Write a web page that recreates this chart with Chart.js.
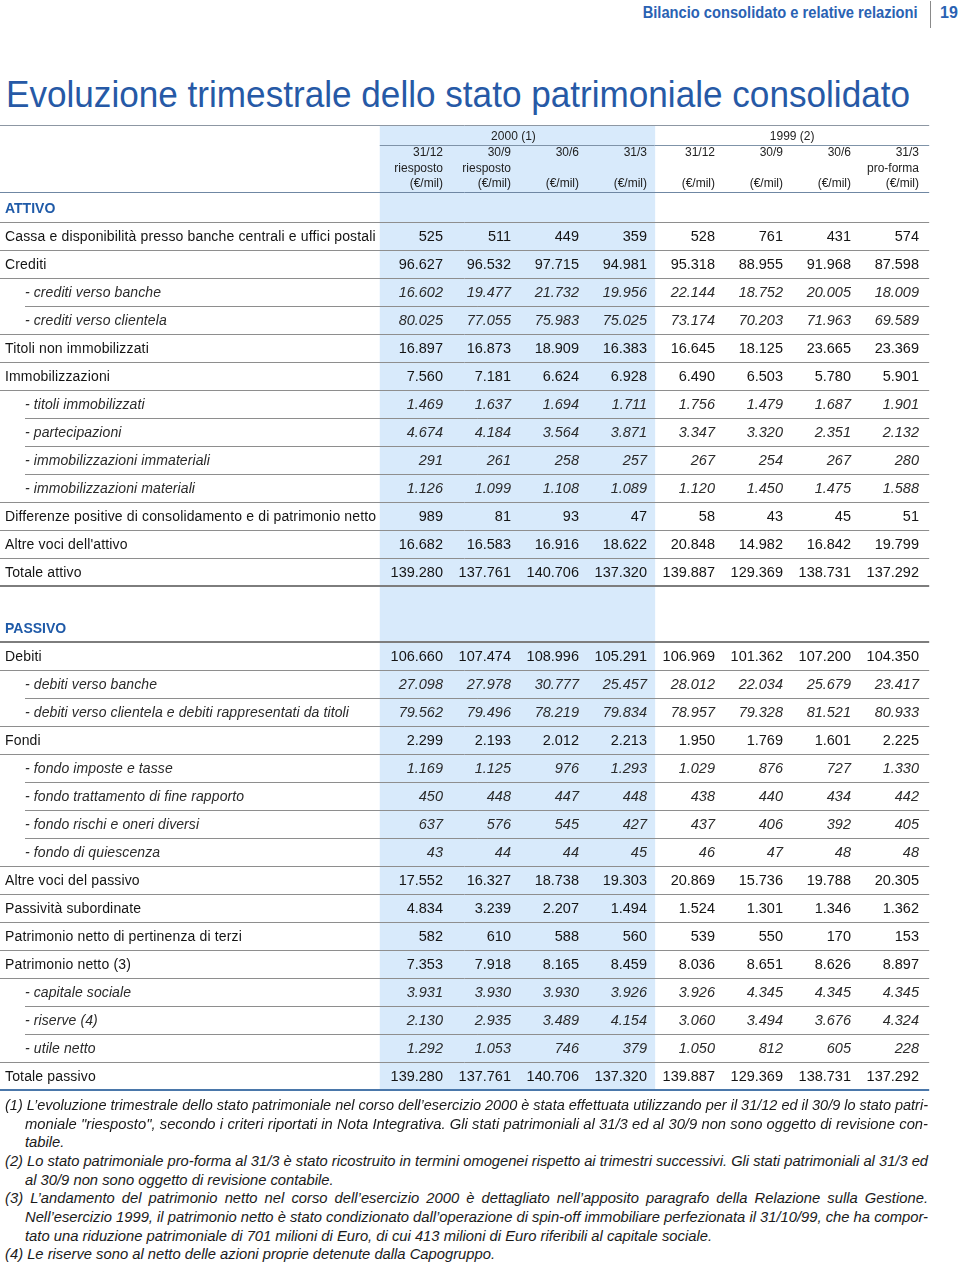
<!DOCTYPE html>
<html lang="it">
<head>
<meta charset="utf-8">
<title>Evoluzione trimestrale dello stato patrimoniale consolidato</title>
<script src="https://cdn.jsdelivr.net/npm/chart.js@4.4.1/dist/chart.umd.min.js"></script>
<style>
  html, body { margin: 0; padding: 0; background: #fff; }
  body { width: 960px; height: 1264px; position: relative; overflow: hidden;
         font-family: "Liberation Sans", Arial, sans-serif; }
  .fit { position: absolute; white-space: nowrap; line-height: 1; }
  #runhead { top: 5px; right: 42px; color: #2a62b3; font-weight: bold; font-size: 16px; transform-origin: 100% 0; }
  #pageno { top: 5px; left: 940px; color: #2a62b3; font-weight: bold; font-size: 16px; }
  #vrule { position: absolute; left: 930px; top: 1px; width: 1px; height: 27px; background: #8a8a8a; }
  #title { top: 77px; left: 6px; color: #2659a6; font-size: 36px; transform-origin: 0 0; }
  #tableBox { position: absolute; left: 0; top: 120px; width: 960px; height: 980px; }
  .note { position: absolute; font-style: italic; font-size: 14px; line-height: 18px; color: #1a1a1a;
          transform-origin: 0 0; white-space: nowrap; }
  .note.just { white-space: normal; text-align: justify; text-align-last: justify; }
</style>
</head>
<body>
<div id="runhead" class="fit">Bilancio consolidato e relative relazioni</div>
<div id="vrule"></div>
<div id="pageno" class="fit">19</div>
<div id="title" class="fit">Evoluzione trimestrale dello stato patrimoniale consolidato</div>
<div id="tableBox"><canvas id="bsChart"></canvas></div>
<div id="notes"></div>

<script>
// ---- data ----
const yearGroups = ['2000 (1)', '1999 (2)'];
const colDates = ['31/12', '30/9', '30/6', '31/3', '31/12', '30/9', '30/6', '31/3'];
const colNotes = ['riesposto', 'riesposto', '', '', '', '', '', 'pro-forma'];
const colUnit = '(€/mil)';

const rowLabels = [
  'ATTIVO',
  'Cassa e disponibilità presso banche centrali e uffici postali',
  'Crediti',
  '- crediti verso banche',
  '- crediti verso clientela',
  'Titoli non immobilizzati',
  'Immobilizzazioni',
  '- titoli immobilizzati',
  '- partecipazioni',
  '- immobilizzazioni immateriali',
  '- immobilizzazioni materiali',
  'Differenze positive di consolidamento e di patrimonio netto',
  "Altre voci dell'attivo",
  'Totale attivo',
  '',
  'PASSIVO',
  'Debiti',
  '- debiti verso banche',
  '- debiti verso clientela e debiti rappresentati da titoli',
  'Fondi',
  '- fondo imposte e tasse',
  '- fondo trattamento di fine rapporto',
  '- fondo rischi e oneri diversi',
  '- fondo di quiescenza',
  'Altre voci del passivo',
  'Passività subordinate',
  'Patrimonio netto di pertinenza di terzi',
  'Patrimonio netto (3)',
  '- capitale sociale',
  '- riserve (4)',
  '- utile netto',
  'Totale passivo'
];
const rowKinds = [
  'section', 'main', 'main', 'sub', 'sub', 'main', 'main', 'sub', 'sub', 'sub', 'sub', 'main', 'main', 'total',
  'blank', 'section', 'main', 'sub', 'sub', 'main', 'sub', 'sub', 'sub', 'sub', 'main', 'main', 'main', 'main',
  'sub', 'sub', 'sub', 'total'
];

// one array per quarter, values in €/mil, same order as rowLabels
const q2000_3112 = [null, 525, 96627, 16602, 80025, 16897, 7560, 1469, 4674, 291, 1126, 989, 16682, 139280, null, null,
  106660, 27098, 79562, 2299, 1169, 450, 637, 43, 17552, 4834, 582, 7353, 3931, 2130, 1292, 139280];
const q2000_309 = [null, 511, 96532, 19477, 77055, 16873, 7181, 1637, 4184, 261, 1099, 81, 16583, 137761, null, null,
  107474, 27978, 79496, 2193, 1125, 448, 576, 44, 16327, 3239, 610, 7918, 3930, 2935, 1053, 137761];
const q2000_306 = [null, 449, 97715, 21732, 75983, 18909, 6624, 1694, 3564, 258, 1108, 93, 16916, 140706, null, null,
  108996, 30777, 78219, 2012, 976, 447, 545, 44, 18738, 2207, 588, 8165, 3930, 3489, 746, 140706];
const q2000_313 = [null, 359, 94981, 19956, 75025, 16383, 6928, 1711, 3871, 257, 1089, 47, 18622, 137320, null, null,
  105291, 25457, 79834, 2213, 1293, 448, 427, 45, 19303, 1494, 560, 8459, 3926, 4154, 379, 137320];
const q1999_3112 = [null, 528, 95318, 22144, 73174, 16645, 6490, 1756, 3347, 267, 1120, 58, 20848, 139887, null, null,
  106969, 28012, 78957, 1950, 1029, 438, 437, 46, 20869, 1524, 539, 8036, 3926, 3060, 1050, 139887];
const q1999_309 = [null, 761, 88955, 18752, 70203, 18125, 6503, 1479, 3320, 254, 1450, 43, 14982, 129369, null, null,
  101362, 22034, 79328, 1769, 876, 440, 406, 47, 15736, 1301, 550, 8651, 4345, 3494, 812, 129369];
const q1999_306 = [null, 431, 91968, 20005, 71963, 23665, 5780, 1687, 2351, 267, 1475, 45, 16842, 138731, null, null,
  107200, 25679, 81521, 1601, 727, 434, 392, 48, 19788, 1346, 170, 8626, 4345, 3676, 605, 138731];
const q1999_313 = [null, 574, 87598, 18009, 69589, 23369, 5901, 1901, 2132, 280, 1588, 51, 19799, 137292, null, null,
  104350, 23417, 80933, 2225, 1330, 442, 405, 48, 20305, 1362, 153, 8897, 4345, 4324, 228, 137292];

const quarters = [q2000_3112, q2000_309, q2000_306, q2000_313, q1999_3112, q1999_309, q1999_306, q1999_313];

const footnotes = [
  ['(1) L’evoluzione trimestrale dello stato patrimoniale nel corso dell’esercizio 2000 è stata effettuata utilizzando per il 31/12 ed il 30/9 lo stato patri-', 0, true],
  ['moniale "riesposto", secondo i criteri riportati in Nota Integrativa. Gli stati patrimoniali al 31/3 ed al 30/9 non sono oggetto di revisione con-', 1, true],
  ['tabile.', 1, false],
  ['(2) Lo stato patrimoniale pro-forma al 31/3 è stato ricostruito in termini omogenei rispetto ai trimestri successivi. Gli stati patrimoniali al 31/3 ed', 0, true],
  ['al 30/9 non sono oggetto di revisione contabile.', 1, false],
  ['(3) L’andamento del patrimonio netto nel corso dell’esercizio 2000 è dettagliato nell’apposito paragrafo della Relazione sulla Gestione.', 0, true],
  ['Nell’esercizio 1999, il patrimonio netto è stato condizionato dall’operazione di spin-off immobiliare perfezionata il 31/10/99, che ha compor-', 1, true],
  ['tato una riduzione patrimoniale di 701 milioni di Euro, di cui 413 milioni di Euro riferibili al capitale sociale.', 1, false],
  ['(4) Le riserve sono al netto delle azioni proprie detenute dalla Capogruppo.', 0, false]
];

// ---- layout (scale units: columns on x, rows on y) ----
const SHADE_FROM = -0.93, SHADE_TO = 3.12, TABLE_RIGHT = 7.15;
const HEAD_TOP = -3.0, YEAR_RULE = -2.286, HEAD_RULE = -0.607;
const HEAD_ROWS = { year: -2.571, date: -2.0, note: -1.43, unit: -0.9 };
const RULE_OFF = 0.46;
const LABEL_FONT = '"Liberation Sans", Arial, sans-serif';

function fmt(n) {
  return String(n).replace(/\B(?=(\d{3})+(?!\d))/g, '.');
}

function rule(ctx, x0, x1, py, color, w) {
  ctx.strokeStyle = color;
  ctx.lineWidth = w;
  const yy = w % 2 ? Math.round(py) + 0.5 : Math.round(py);
  ctx.beginPath();
  ctx.moveTo(x0, yy);
  ctx.lineTo(x1, yy);
  ctx.stroke();
}

const tablePlugin = {
  id: 'tablePlugin',
  beforeDatasetsDraw(chart) {
    const { ctx, scales: { x, y } } = chart;
    const left = x.left, right = x.getPixelForValue(TABLE_RIGHT);
    ctx.save();
    // blue band behind the 2000 quarters
    const sx0 = x.getPixelForValue(SHADE_FROM), sx1 = x.getPixelForValue(SHADE_TO);
    const sy0 = y.getPixelForValue(HEAD_TOP), sy1 = y.getPixelForValue(rowLabels.length - 1 + RULE_OFF);
    ctx.fillStyle = '#d8eafb';
    ctx.fillRect(sx0, sy0, sx1 - sx0, sy1 - sy0);

    // header rules
    rule(ctx, left, right, y.getPixelForValue(HEAD_TOP), '#8d97a3', 1);
    rule(ctx, sx0, right, y.getPixelForValue(YEAR_RULE), '#7f93a8', 1);
    rule(ctx, left, right, y.getPixelForValue(HEAD_RULE), '#6f87a3', 1);

    // row rules
    rowKinds.forEach((kind, r) => {
      if (kind === 'blank') return;
      const py = y.getPixelForValue(r + RULE_OFF);
      if (r === rowLabels.length - 1) { rule(ctx, left, right, py, '#4a77aa', 2); return; }
      if (kind === 'total' || kind === 'section' && r > 0) { rule(ctx, left, right, py, '#7d7d7d', 2); return; }
      const indent = kind === 'sub' && rowKinds[r + 1] === 'sub' ? 25 : 0;
      rule(ctx, left + indent, right, py, '#8e8e8e', 1);
    });

    // column headings
    ctx.fillStyle = '#222';
    ctx.font = '12px ' + LABEL_FONT;
    ctx.textBaseline = 'middle';
    ctx.textAlign = 'center';
    ctx.fillText(yearGroups[0], (sx0 + sx1) / 2 - 4, y.getPixelForValue(HEAD_ROWS.year));
    ctx.fillText(yearGroups[1], (sx1 + right) / 2, y.getPixelForValue(HEAD_ROWS.year));
    ctx.textAlign = 'right';
    colDates.forEach((d, c) => {
      const px = x.getPixelForValue(c);
      ctx.fillText(d, px, y.getPixelForValue(HEAD_ROWS.date));
      if (colNotes[c]) ctx.fillText(colNotes[c], px, y.getPixelForValue(HEAD_ROWS.note));
      ctx.fillText(colUnit, px, y.getPixelForValue(HEAD_ROWS.unit));
    });

    // row labels
    ctx.textAlign = 'left';
    rowLabels.forEach((label, r) => {
      const kind = rowKinds[r];
      if (!label) return;
      const py = y.getPixelForValue(r);
      if (kind === 'section') {
        ctx.letterSpacing = '0px';
        ctx.font = 'bold 14px ' + LABEL_FONT;
        ctx.fillStyle = '#1f5aa8';
        ctx.fillText(label, left + 5, py);
      } else if (kind === 'sub') {
        ctx.letterSpacing = '0.1px';
        ctx.font = 'italic 14px ' + LABEL_FONT;
        ctx.fillStyle = '#2a2a2a';
        ctx.fillText(label, left + 25, py);
      } else {
        ctx.letterSpacing = '0.15px';
        ctx.font = '14px ' + LABEL_FONT;
        ctx.fillStyle = '#141414';
        ctx.fillText(label, left + 5, py);
      }
    });
    ctx.letterSpacing = '0px';
    ctx.restore();
  },
  afterDatasetsDraw(chart) {
    const { ctx } = chart;
    ctx.save();
    ctx.textAlign = 'right';
    ctx.textBaseline = 'middle';
    chart.data.datasets.forEach((ds, i) => {
      chart.getDatasetMeta(i).data.forEach((el, j) => {
        const pt = ds.data[j];
        const kind = rowKinds[pt.y];
        ctx.font = (kind === 'sub' ? 'italic ' : '') + '14.5px ' + LABEL_FONT;
        ctx.fillStyle = kind === 'sub' ? '#2a2a2a' : '#141414';
        ctx.fillText(fmt(pt.v), el.x, el.y);
      });
    });
    ctx.restore();
  }
};

const datasets = quarters.map((series, c) => ({
  label: colDates[c],
  data: series.map((v, r) => v == null ? null : { x: c, y: r, v: v }).filter(Boolean),
  pointRadius: 0,
  pointHoverRadius: 0,
  showLine: false
}));

new Chart(document.getElementById('bsChart'), {
  type: 'scatter',
  data: { datasets: datasets },
  options: {
    responsive: true,
    maintainAspectRatio: false,
    animation: false,
    events: [],
    layout: { padding: 0 },
    plugins: { legend: { display: false }, tooltip: { enabled: false } },
    scales: {
      x: { type: 'linear', display: false, min: -443 / 68, max: -443 / 68 + 960 / 68 },
      y: { type: 'linear', display: false, reverse: true, min: -89 / 28, max: -89 / 28 + 35 }
    }
  },
  plugins: [tablePlugin]
});

// ---- page texts: condensed by measuring ----
function squeeze(id, target) {
  const el = document.getElementById(id);
  const w = el.getBoundingClientRect().width;
  el.style.transform = 'scaleX(' + (target / w) + ')';
}
squeeze('runhead', 275);
squeeze('title', 904);

(function buildNotes() {
  const box = document.getElementById('notes');
  const els = footnotes.map(([text, indent]) => {
    const d = document.createElement('div');
    d.className = 'note';
    d.textContent = text;
    d.style.left = (indent ? 25 : 5) + 'px';
    d.style.top = (1096 + footnotes.findIndex(f => f[0] === text) * 18.65) + 'px';
    box.appendChild(d);
    return d;
  });
  // the scale of the condensed face, taken from a line set ragged (ends near x = 712)
  const s = (712 - 25) / els[7].getBoundingClientRect().width;
  els.forEach((d, i) => {
    const [, indent, just] = footnotes[i];
    const target = 928 - (indent ? 25 : 5);
    const natural = d.getBoundingClientRect().width;
    if (just && natural <= target / s) {
      d.classList.add('just');
      d.style.width = (target / s) + 'px';
      d.style.transform = 'scaleX(' + s + ')';
    } else if (just) {
      d.style.transform = 'scaleX(' + (target / natural) + ')';
    } else {
      d.style.transform = 'scaleX(' + s + ')';
    }
  });
})();
</script>
</body>
</html>
